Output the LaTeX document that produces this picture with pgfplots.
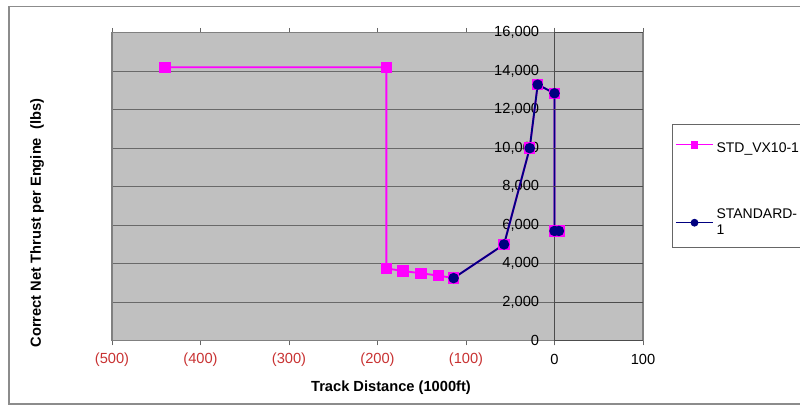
\documentclass[border=0pt]{standalone}
\usepackage{pgfplots}
\pgfplotsset{compat=1.18}
\usepackage{fontspec}
\setmainfont{Liberation Sans}
\definecolor{plotbg}{RGB}{192,192,192}
\definecolor{gridc}{RGB}{105,105,105}
\definecolor{negred}{RGB}{200,50,50}
\definecolor{mag}{RGB}{255,0,255}
\definecolor{nav}{RGB}{0,0,128}
\begin{document}
\begin{tikzpicture}
\begin{axis}[
  scale only axis, width=398.25pt, height=231pt,
  xmin=-500, xmax=100, ymin=0, ymax=16000,
  scaled y ticks=false, scaled x ticks=false,
  axis background/.style={fill=plotbg},
  axis line style={draw=black!50, line width=1pt},
  xtick={-500,-400,-300,-200,-100,0,100},
  xticklabels={{\color{negred}(500)},{\color{negred}(400)},{\color{negred}(300)},{\color{negred}(200)},{\color{negred}(100)},0,100},
  ytick={0,2000,4000,6000,8000,10000,12000,14000,16000},
  yticklabels={0,{2,000},{4,000},{6,000},{8,000},{10,000},{12,000},{14,000},{16,000}},
  ymajorgrids, major grid style={draw=gridc, line width=0.8pt},
  extra x ticks={0}, extra x tick labels={},
  extra x tick style={xmajorgrids=true, major grid style={draw=black!70, line width=0.8pt}},
  tick align=outside, major tick length=3.5pt,
  xtick style={draw=black!60, line width=0.6pt},
  ytick style={draw=none},
  tick label style={font=\fontsize{11}{13}\selectfont},
  xticklabel style={anchor=center, yshift=-10.5pt},
  yticklabel style={anchor=east, inner xsep=0pt, xshift=324pt},
  xlabel={Track Distance (1000ft)},
  ylabel={Correct Net Thrust per Engine\ \ (lbs)},
  label style={font=\bfseries\fontsize{11}{13}\selectfont},
  xlabel style={at={(axis description cs:0.5254,-0.152)}, anchor=center},
  ylabel style={at={(axis description cs:-0.1412,0.382)}, anchor=center, rotate=0},
  legend style={at={(axis description cs:1.0546,0.7036)}, anchor=north west,
    draw=black!60, line width=0.8pt, fill=white, font=\fontsize{10.5}{12.5}\selectfont,
    row sep=36.5pt, inner ysep=6pt, inner xsep=2pt,
    nodes={align=left}},
  legend cell align=left,
  legend image code/.code={\draw[mark repeat=2,mark phase=2,#1,line width=1pt,mark size=2.4pt] plot coordinates {(0pt,0pt) (14pt,0pt) (28pt,0pt)};},
]
\addplot[mag, line width=1.4pt, mark=square*, mark size=3.6pt, mark options={solid, fill=mag, draw=mag}]
  coordinates {(-440,14200) (-190,14200) (-190,3750) (-171,3620) (-151,3500) (-131,3380) (-114,3250) (-57,5000) (-28,10000) (-19,13300) (0,12850) (0,5700) (5,5700)};
\addlegendentry{\rule{0pt}{13pt}STD\_VX10-1}
\addplot[nav, line width=1.4pt, mark=*, mark size=3.2pt, mark options={solid, fill=nav, draw=nav}]
  coordinates {(-114,3250) (-57,5000) (-28,10000) (-19,13300) (0,12850) (0,5700) (5,5700)};
\addlegendentry{STANDARD-\\1}
\draw[black!70, line width=0.6pt] (axis cs:0,0) -- ++(-3.5pt,0)
  (axis cs:0,2000) -- ++(-3.5pt,0) (axis cs:0,4000) -- ++(-3.5pt,0)
  (axis cs:0,6000) -- ++(-3.5pt,0) (axis cs:0,8000) -- ++(-3.5pt,0)
  (axis cs:0,10000) -- ++(-3.5pt,0) (axis cs:0,12000) -- ++(-3.5pt,0)
  (axis cs:0,14000) -- ++(-3.5pt,0) (axis cs:0,16000) -- ++(-3.5pt,0);
\end{axis}
\draw[black!45, line width=1pt] (-77.25pt,250.5pt) rectangle (610pt,-47.5pt);
\pgfresetboundingbox
\useasboundingbox (-84pt,-49.75pt) rectangle (516pt,255.5pt);
\end{tikzpicture}
\end{document}
